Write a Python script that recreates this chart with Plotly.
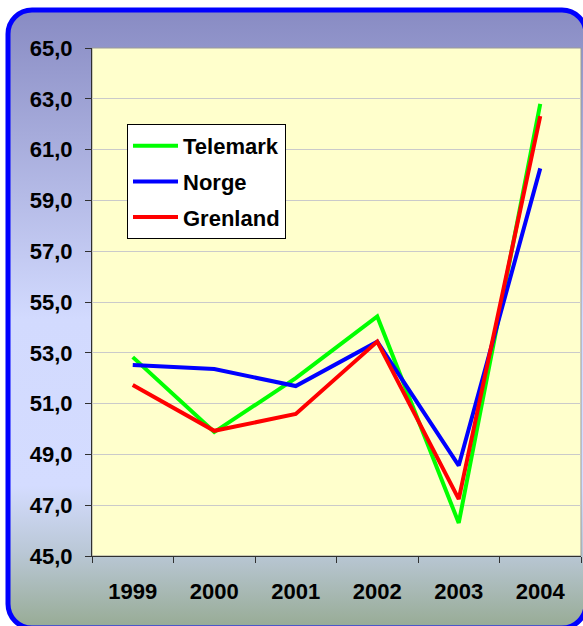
import base64
import plotly.graph_objects as go

years = ["1999", "2000", "2001", "2002", "2003", "2004"]
telemark = [52.83, 49.88, 52.0, 54.43, 46.3, 62.8]
norge = [52.52, 52.36, 51.69, 53.44, 48.56, 60.26]
grenland = [51.73, 49.93, 50.59, 53.44, 47.24, 62.32]

W, H = 583, 626
ML, MR, MT, MB = 92, 2, 48, 70
PW, PH = W - ML - MR, H - MT - MB

svg = f'''<svg xmlns="http://www.w3.org/2000/svg" width="{W}" height="{H}" viewBox="0 0 {W} {H}">
<defs><linearGradient id="g" x1="0" y1="0" x2="0" y2="1">
<stop offset="0" stop-color="#888BC3"/>
<stop offset="0.5" stop-color="#D2DAFE"/>
<stop offset="0.77" stop-color="#D4DCFF"/>
<stop offset="0.88" stop-color="#B9C7D5"/>
<stop offset="1" stop-color="#97AB94"/>
</linearGradient></defs>
<rect x="8" y="10" width="578" height="618" rx="24" ry="24" fill="url(#g)" stroke="#0000FF" stroke-width="5"/>
</svg>'''
src = "data:image/svg+xml;base64," + base64.b64encode(svg.encode()).decode()

font_b = dict(family="Liberation Sans, Arial, sans-serif", size=22, color="black", weight="bold")

fig = go.Figure()
for name, vals, col in [("Telemark", telemark, "#00FF00"),
                        ("Norge", norge, "#0000FF"),
                        ("Grenland", grenland, "#FF0000")]:
    fig.add_trace(go.Scatter(x=years, y=vals, name=name, mode="lines",
                             legendgroup=name,
                             line=dict(color=col, width=4)))

fig.update_layout(
    width=W, height=H,
    margin=dict(l=ML, r=MR, t=MT, b=MB),
    paper_bgcolor="white",
    plot_bgcolor="#FFFFCC",
    separators=", ",
    showlegend=True,
    legend=dict(x=(127 - ML) / PW, y=(556 - 124) / PH, xanchor="left", yanchor="top",
                bgcolor="white", bordercolor="black", borderwidth=1,
                font=font_b, tracegroupgap=4, traceorder="grouped", itemwidth=45),
    images=[dict(source=src, xref="paper", yref="paper",
                 x=-ML / PW, y=556 / PH, sizex=W / PW, sizey=H / PH,
                 xanchor="left", yanchor="top", sizing="stretch", layer="below")],
    shapes=[dict(type="rect", xref="paper", yref="paper", x0=0, x1=1, y0=0, y1=1,
                 line=dict(color="#9A9A9A", width=1), fillcolor="#FFFFCC", layer="below")],
)
fig.update_xaxes(type="category", range=[-0.5, 5.5], tickson="boundaries",
                 ticks="outside", ticklen=6, tickcolor="#303030",
                 showline=True, linecolor="#303030", linewidth=1,
                 showgrid=False, tickfont=font_b, ticklabelstandoff=16)
fig.update_yaxes(range=[45, 65], dtick=2, tick0=45, tickformat=".1f",
                 ticks="outside", ticklen=6, tickcolor="#303030",
                 showline=True, linecolor="#303030", linewidth=1,
                 showgrid=True, gridcolor="#CACACA", gridwidth=1,
                 zeroline=False, tickfont=font_b, ticklabelstandoff=8)

fig.write_html("out.html", config={"displayModeBar": False},
               post_script="document.body.style.margin='0';document.body.style.overflow='hidden';")
